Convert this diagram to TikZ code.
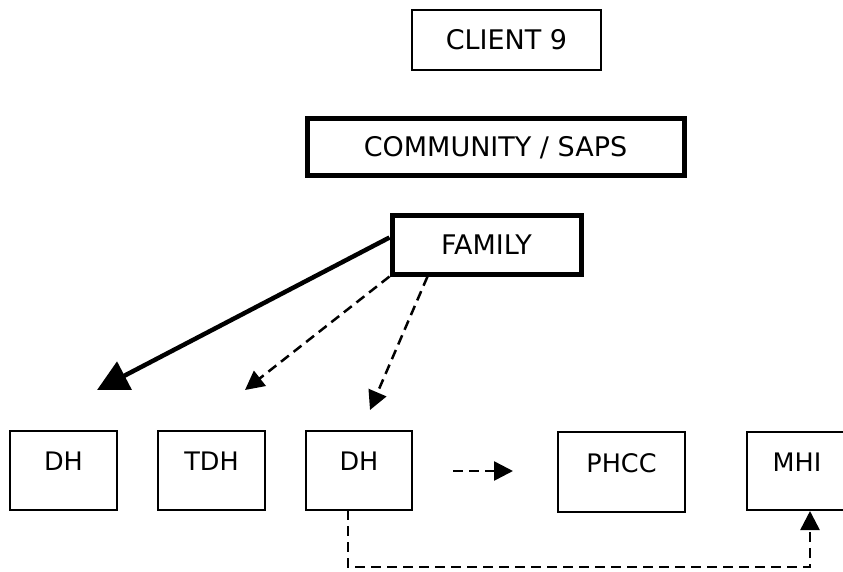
\documentclass[tikz,border=0pt]{standalone}
\usepackage{fontspec}
\setmainfont{DejaVu Sans}
\usetikzlibrary{arrows.meta,calc}
\begin{document}
\begin{tikzpicture}[x=1pt,y=-1pt,
  topbox/.style={draw=black,line width=2.5pt,inner sep=0pt,font=\fontsize{27}{31}\selectfont,text height=19.5pt,text depth=0pt},
  thickbox/.style={topbox,line width=5pt},
  lowbox/.style={draw=black,line width=2.5pt,inner sep=0pt,font=\fontsize{25.5}{30}\selectfont,text height=0pt,text depth=0pt,minimum height=79pt},
  solidarrow/.style={line width=4.5pt,-{Triangle[length=31pt,width=31pt]}},
  dasharrow/.style={line width=2.5pt,dash pattern=on 10pt off 6pt,-{Triangle[length=19pt,width=19pt]}}
]
\useasboundingbox (0,0) rectangle (843,571);
\clip (0,0) rectangle (843,571);
\fill[white] (0,0) rectangle (843,571);

\node[topbox,minimum width=189pt,minimum height=60pt] (client) at (506.5,40) {CLIENT 9};
\node[thickbox,minimum width=377pt,minimum height=57pt] (comm) at (495.5,146.5) {COMMUNITY / SAPS};
\node[thickbox,minimum width=189pt,minimum height=59pt] (fam) at (486.5,244.5) {FAMILY};

\node[lowbox,minimum width=107pt] (dh1) at (63.5,470.5) {DH};
\node[lowbox,minimum width=107pt] (tdh) at (211.5,470.5) {TDH};
\node[lowbox,minimum width=106pt] (dh2) at (359,470.5) {DH};
\node[lowbox,minimum width=127pt,minimum height=80pt] (phcc) at (621.5,472) {PHCC};
\node[lowbox,minimum width=100pt,minimum height=78pt] (mhi) at (797,471) {MHI};

\coordinate (t1) at (97,390);
\coordinate (t2) at (245,390);
\coordinate (t3) at (370,410);
\coordinate (h1) at (453,471);
\coordinate (h2) at (513,471);
\coordinate (e1) at (348,510);
\coordinate (c1) at (348,567);
\coordinate (c2) at (810,567);
\coordinate (m1) at (810,511);

\draw[solidarrow] ($(fam.west)+(0,-7)$) -- (t1);
\draw[dasharrow] (fam.south west) -- (t2);
\draw[dasharrow] ($(fam.south west)+(38,0)$) -- (t3);
\draw[dasharrow] (h1) -- (h2);
\draw[dasharrow] (e1) -- (c1) -- (c2) -- (m1);
\end{tikzpicture}
\end{document}
